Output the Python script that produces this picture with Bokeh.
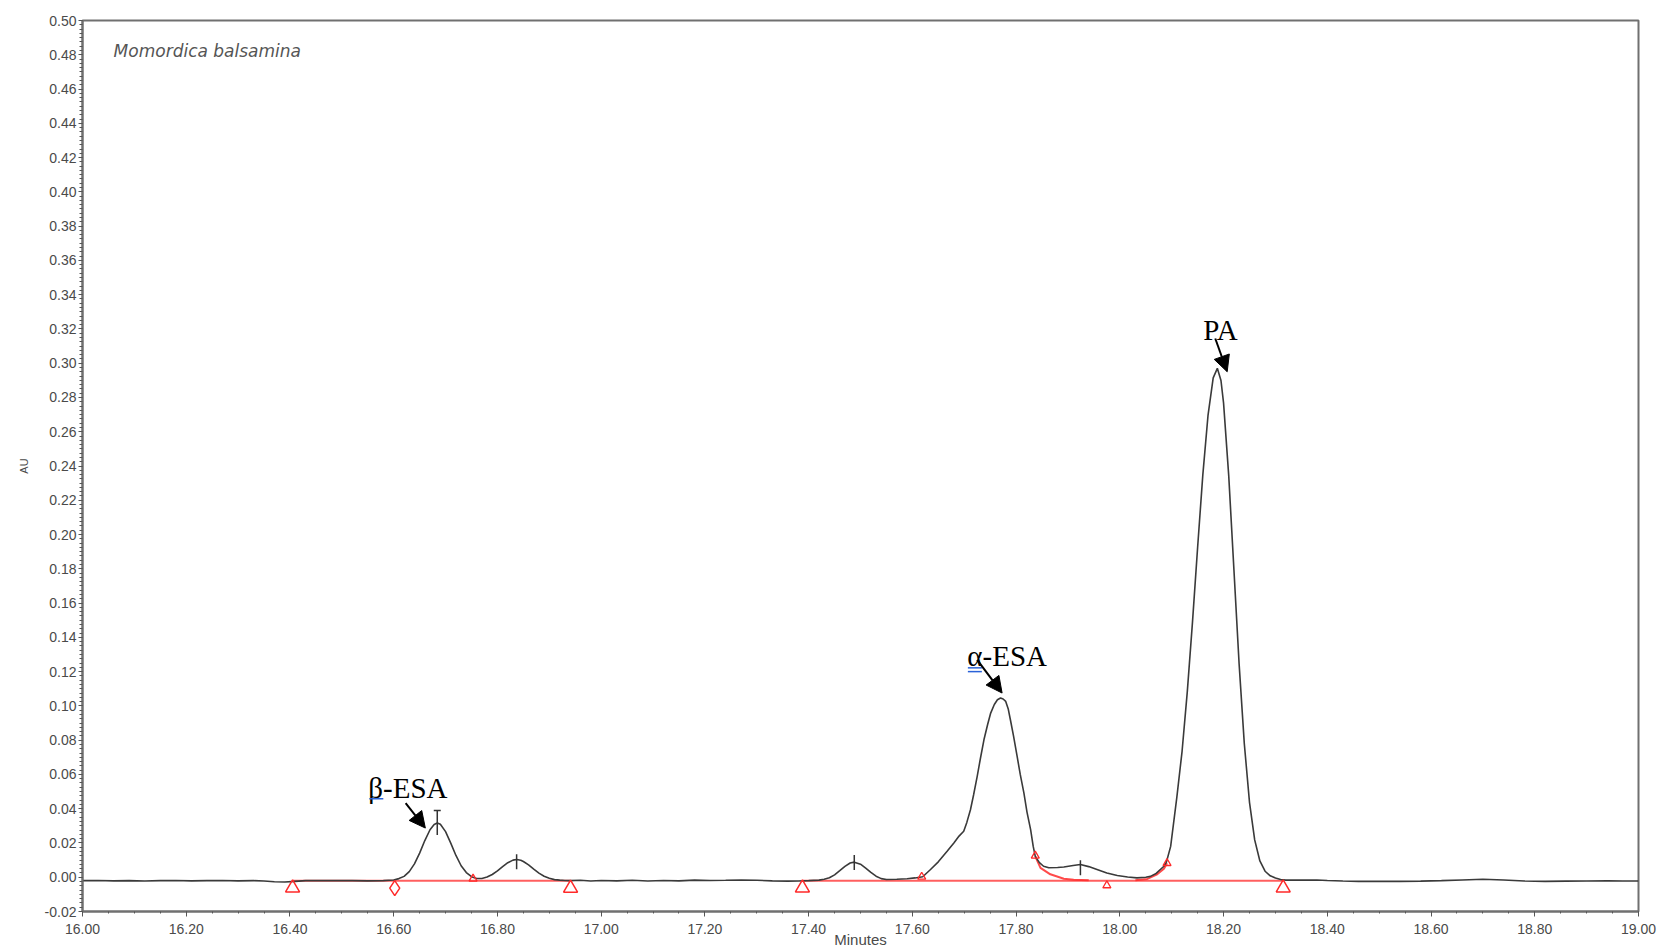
import numpy as np
from bokeh.plotting import figure
from bokeh.models import FixedTicker, NumeralTickFormatter, Arrow, NormalHead, Range1d
from bokeh.embed import file_html
from bokeh.resources import INLINE
from bokeh.core.properties import value

# ---------------- data ----------------
time_min = [
    16.00, 16.03, 16.06, 16.09, 16.12, 16.15, 16.18, 16.21, 16.24, 16.27, 16.30, 16.33, 16.35, 16.37, 16.39,
    16.41, 16.43, 16.46, 16.49, 16.52, 16.55, 16.58,
    16.60, 16.61, 16.62, 16.63, 16.64, 16.65, 16.66, 16.67, 16.678, 16.684, 16.69, 16.70, 16.71, 16.72, 16.73,
    16.74, 16.75, 16.76, 16.77, 16.78, 16.79, 16.80, 16.81, 16.82, 16.83, 16.837, 16.845, 16.85, 16.86, 16.87,
    16.88, 16.89, 16.90, 16.91, 16.92, 16.93,
    16.94, 16.96, 16.98, 17.00, 17.03, 17.06, 17.09, 17.12, 17.15, 17.18, 17.21, 17.24, 17.27, 17.30, 17.33,
    17.36, 17.38, 17.40,
    17.42, 17.43, 17.44, 17.45, 17.46, 17.47, 17.48, 17.488, 17.50, 17.51, 17.52, 17.53, 17.54, 17.55, 17.57,
    17.59, 17.605, 17.62,
    17.635, 17.65, 17.667, 17.68, 17.69, 17.699, 17.705, 17.712, 17.718, 17.725, 17.731, 17.738, 17.745, 17.751,
    17.758, 17.764, 17.770, 17.775, 17.780, 17.785, 17.789, 17.795, 17.802, 17.808, 17.815, 17.821, 17.828,
    17.833, 17.837, 17.845, 17.853, 17.863, 17.88, 17.892, 17.91, 17.924, 17.94, 17.956, 17.975, 17.995, 18.015,
    18.033, 18.05, 18.059, 18.07, 18.085, 18.09, 18.098,
    18.11, 18.12, 18.13, 18.14, 18.15, 18.16, 18.17, 18.18, 18.188, 18.195, 18.20, 18.21, 18.22, 18.23, 18.24,
    18.25, 18.26, 18.27, 18.28, 18.29, 18.30, 18.31,
    18.32, 18.35, 18.38, 18.40, 18.43, 18.46, 18.50, 18.54, 18.58, 18.62, 18.66, 18.70, 18.74, 18.78, 18.82,
    18.86, 18.90, 18.94, 18.97, 19.00,
]
absorbance_au = [
    -0.0020, -0.0019, -0.0021, -0.0020, -0.0022, -0.0020, -0.0019, -0.0021, -0.0020, -0.0019, -0.0021, -0.0020, -0.0022, -0.0026, -0.0028,
    -0.0024, -0.0020, -0.0019, -0.0020, -0.0020, -0.0021, -0.0020,
    -0.0016, -0.0008, 0.0005, 0.0033, 0.0078, 0.0141, 0.0214, 0.0277, 0.0308, 0.0317, 0.0309, 0.0266, 0.0199, 0.0127, 0.0067,
    0.0027, 0.0003, -0.0007, -0.0007, 0.0001, 0.0016, 0.0037, 0.0062, 0.0085, 0.0100, 0.0103, 0.0099, 0.0092, 0.0072, 0.0047,
    0.0024, 0.0006, -0.0006, -0.0014, -0.0017, -0.0019,
    -0.0020, -0.0018, -0.0022, -0.0019, -0.0021, -0.0018, -0.0022, -0.0019, -0.0021, -0.0017, -0.0019, -0.0018, -0.0016, -0.0018, -0.0021,
    -0.0023, -0.0022, -0.0020,
    -0.0017, -0.0012, -0.0003, 0.0014, 0.0038, 0.0063, 0.0083, 0.0088, 0.0076, 0.0053, 0.0028, 0.0006, -0.0008, -0.0013, -0.0012,
    -0.0009, -0.0004, 0.0003,
    0.0045, 0.0090, 0.0151, 0.0200, 0.0240, 0.0268, 0.0320, 0.0394, 0.0480, 0.0589, 0.0690, 0.0802, 0.0890, 0.0958,
    0.1008, 0.1036, 0.1046, 0.1040, 0.1026, 0.0980, 0.0919, 0.0825, 0.0705, 0.0600, 0.0492, 0.0380, 0.0278,
    0.0180, 0.0122, 0.0085, 0.0064, 0.0055, 0.0057, 0.0060, 0.0068, 0.0074, 0.0062, 0.0045, 0.0025, 0.0010, 0.0001,
    -0.0004, 0.0000, 0.0005, 0.0022, 0.0064, 0.0090, 0.0180,
    0.0469, 0.0735, 0.1080, 0.1486, 0.1926, 0.2348, 0.2695, 0.2914, 0.2970, 0.2899, 0.2767, 0.2341, 0.1793, 0.1244, 0.0779,
    0.0437, 0.0218, 0.0095, 0.0035, 0.0008, -0.0005, -0.0013,
    -0.0017, -0.0017, -0.0016, -0.0019, -0.0022, -0.0024, -0.0024, -0.0024, -0.0023, -0.0020, -0.0016, -0.0012, -0.0016, -0.0022, -0.0024,
    -0.0023, -0.0022, -0.0021, -0.0022, -0.0022,
]

# integration baselines (red)
baseline_start = [16.405, 17.388]
baseline_end = [16.941, 18.315]
baseline_level = [-0.0020, -0.0020]
skim_left_t = [17.837, 17.847, 17.866, 17.892, 17.911, 17.94]
skim_left_v = [0.0122, 0.0055, 0.0017, -0.0009, -0.0014, -0.0018]
skim_right_t = [18.03, 18.053, 18.072, 18.085, 18.091]
skim_right_v = [-0.0018, -0.0010, 0.0017, 0.0050, 0.0082]

# peak start/end markers (red)
mark_large_t = [16.405, 16.941, 17.388, 18.315]
mark_large_v = [-0.0062, -0.0064, -0.0062, -0.0062]
mark_small_t = [16.753, 17.618, 17.837, 17.975, 18.091]
mark_small_v = [-0.0009, 0.0002, 0.0125, -0.0048, 0.0082]
mark_diamond_t = [16.602]
mark_diamond_v = [-0.0064]

# apex ticks (black)
apex_t = [16.684, 16.837, 17.488, 17.924]
apex_v = [0.0317, 0.0090, 0.0086, 0.0056]

# peak labels
peak_names = ["β-ESA", "α-ESA", "PA"]
peak_label_t = [16.551, 17.706, 18.161]
peak_label_v = [0.0522, 0.1292, 0.3194]
arrow_from_t = [16.623, 17.725, 18.184]
arrow_from_v = [0.0433, 0.1269, 0.3144]
arrow_to_t = [16.661, 17.773, 18.207]
arrow_to_v = [0.0287, 0.1075, 0.2950]

sample_name = "Momordica balsamina"

x_ticks = [16.0, 16.2, 16.4, 16.6, 16.8, 17.0, 17.2, 17.4, 17.6, 17.8, 18.0, 18.2, 18.4, 18.6, 18.8, 19.0]
y_ticks = [-0.02, 0.0, 0.02, 0.04, 0.06, 0.08, 0.10, 0.12, 0.14, 0.16, 0.18, 0.20, 0.22, 0.24, 0.26,
           0.28, 0.30, 0.32, 0.34, 0.36, 0.38, 0.40, 0.42, 0.44, 0.46, 0.48, 0.50]

# ---------------- figure ----------------
p = figure(width=1661, height=950, output_backend="svg", toolbar_location=None,
           x_range=Range1d(16.0, 19.0), y_range=Range1d(-0.02, 0.50),
           min_border_left=82, min_border_right=23, min_border_top=20, min_border_bottom=38)
p.background_fill_color = "white"
p.border_fill_color = "white"
p.xgrid.visible = False
p.ygrid.visible = False
p.outline_line_color = "#707070"
p.outline_line_width = 2

x_minor = [round(16.0 + 0.05 * i, 3) for i in range(61)]
y_minor = [round(-0.02 + 0.0025 * i, 4) for i in range(209)]
p.xaxis.ticker = FixedTicker(ticks=x_ticks, minor_ticks=x_minor)
p.yaxis.ticker = FixedTicker(ticks=y_ticks, minor_ticks=y_minor)
p.xaxis.formatter = NumeralTickFormatter(format="0.00")
p.yaxis.formatter = NumeralTickFormatter(format="0.00")

for ax in (p.xaxis[0], p.yaxis[0]):
    ax.axis_line_color = "#707070"
    ax.axis_line_width = 2
    ax.major_tick_line_color = "#555555"
    ax.minor_tick_line_color = "#555555"
    ax.major_tick_in = 0
    ax.minor_tick_in = 0
    ax.major_label_text_font = "Liberation Sans"
    ax.major_label_text_font_size = "14px"
    ax.major_label_text_color = "#4a4a4a"
    ax.axis_label_text_font = "Liberation Sans"
    ax.axis_label_text_font_style = "normal"
    ax.axis_label_text_color = "#4a4a4a"

p.xaxis.axis_label = "Minutes"
p.xaxis.axis_label_text_font_size = "15px"
p.xaxis.major_tick_out = 5
p.xaxis.minor_tick_out = 2
p.xaxis.major_label_standoff = 7
p.xaxis.axis_label_standoff = -6

p.yaxis.axis_label = "AU"
p.yaxis.axis_label_text_font_size = "11px"
p.yaxis.major_tick_out = 4
p.yaxis.minor_tick_out = 3
p.yaxis.major_label_standoff = 2
p.yaxis.axis_label_standoff = 12

# red integration baselines
p.segment(x0=baseline_start, y0=baseline_level, x1=baseline_end, y1=baseline_level,
          line_color="#ff2a2a", line_alpha=0.75, line_width=2)
p.line(skim_left_t, skim_left_v, line_color="#ff2a2a", line_alpha=0.85, line_width=2)
p.line(skim_right_t, skim_right_v, line_color="#ff2a2a", line_alpha=0.85, line_width=2)

# chromatogram trace
p.line(time_min, absorbance_au, line_color="#3a3a3a", line_width=1.6)

# red markers
p.scatter(mark_large_t, mark_large_v, marker="triangle", size=14, fill_color=None,
          line_color="#ff2a2a", line_width=1.5)
p.scatter(mark_small_t, mark_small_v, marker="triangle", size=8, fill_color=None,
          line_color="#ff2a2a", line_width=1.3)
p.scatter(mark_diamond_t, mark_diamond_v, marker="diamond", size=15, fill_color=None,
          line_color="#ff2a2a", line_width=1.5)

# apex ticks
p.scatter(apex_t[:1], apex_v[:1], marker="dash", angle=np.pi / 2, size=24,
          line_color="#333333", line_width=1.5)
p.scatter(apex_t[1:], apex_v[1:], marker="dash", angle=np.pi / 2, size=15,
          line_color="#333333", line_width=1.5)
p.scatter([apex_t[0]], [apex_v[0] + 0.0072], marker="dash", size=7,
          line_color="#333333", line_width=1.5)

# arrows and peak names
for xs, ys, xe, ye in zip(arrow_from_t, arrow_from_v, arrow_to_t, arrow_to_v):
    p.add_layout(Arrow(end=NormalHead(size=16, fill_color="black", line_color="black", line_width=1),
                       x_start=xs, y_start=ys, x_end=xe, y_end=ye,
                       line_color="black", line_width=2))

p.text(x=peak_label_t, y=peak_label_v, text=peak_names,
       text_font=value("Liberation Serif"), text_font_size="29px",
       text_color="black", text_align="left", text_baseline="alphabetic")

# blue spell-check underlines under Greek letters
p.line([16.553, 16.580], [0.0458, 0.0458], line_color="#2a62d8", line_width=1.5)
p.line([17.707, 17.734], [0.1222, 0.1222], line_color="#2a62d8", line_width=1.5)
p.line([17.707, 17.734], [0.1200, 0.1200], line_color="#2a62d8", line_width=1.5)

# sample name
p.text(x=[16.06], y=[0.4820], text=[sample_name],
       text_font=value("DejaVu Sans"), text_font_style="italic", text_font_size="17px",
       text_color="#555555", text_align="left", text_baseline="alphabetic")

open("out.html", "w").write(file_html(p, INLINE))
